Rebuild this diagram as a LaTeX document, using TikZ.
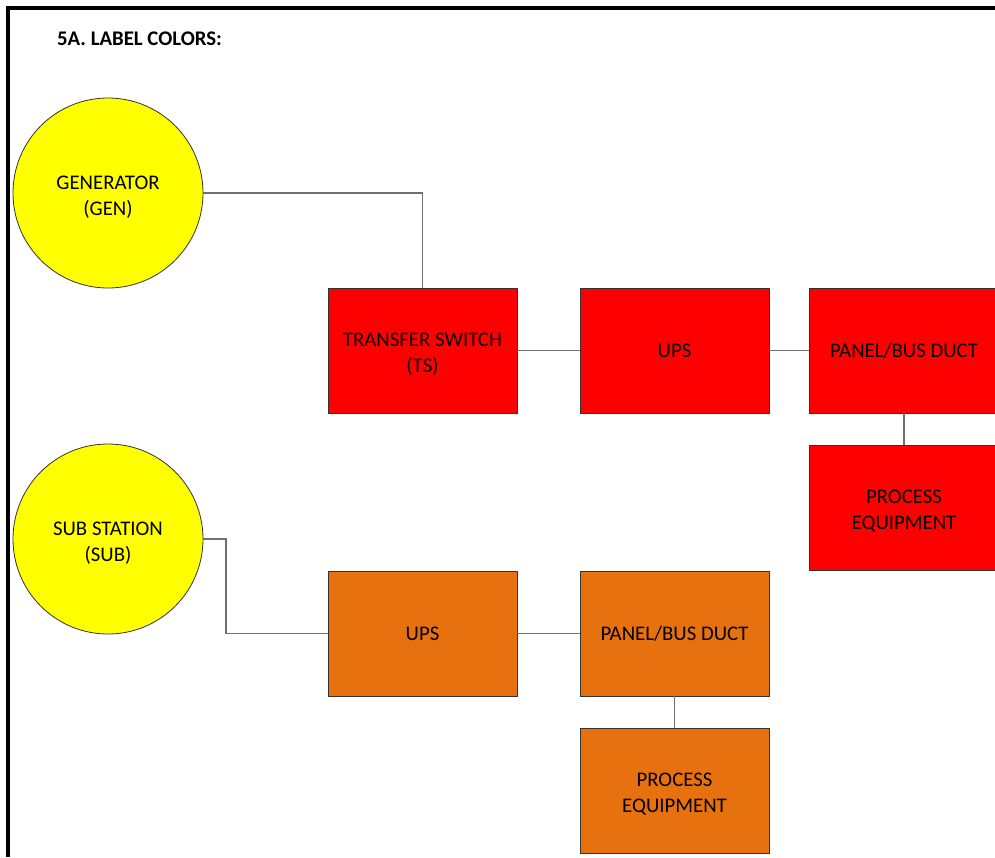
\documentclass[tikz,border=0pt]{standalone}
\usepackage{fontspec}
\setmainfont{Carlito}
\definecolor{boxred}{HTML}{FF0000}
\definecolor{boxorange}{HTML}{E8710F}
\definecolor{genyellow}{HTML}{FFFF00}
\definecolor{wire}{HTML}{707070}
\newcommand\liftline{\rule{0pt}{21pt}}
\begin{document}
\begin{tikzpicture}[x=1pt,y=-1pt,
  lbl/.style={font=\fontsize{20.8}{26}\selectfont, align=center, text=black},
  blk/.style={lbl, draw=black!80, line width=0.8pt, minimum width=189pt, minimum height=125pt, inner sep=0pt},
  redblk/.style={blk, fill=boxred},
  orgblk/.style={blk, fill=boxorange},
  src/.style={lbl, circle, draw=black!80, line width=0.8pt, fill=genyellow, minimum size=190pt, inner sep=0pt},
  wirel/.style={draw=wire, line width=1.3pt}]
\useasboundingbox (0,0) rectangle (995,857);
\clip (0,0) rectangle (995,857);
\fill[white] (0,0) rectangle (995,857);
\draw[line width=4pt] (8,857) -- (8,8) -- (995,8);
\node[anchor=west, inner sep=0pt, font=\bfseries\fontsize{20.8}{24}\selectfont] (title) at (57,39) {5A. LABEL COLORS:};
\node[src] (gen) at (108,193) {\liftline GENERATOR\\(GEN)};
\node[src] (sub) at (108,539) {\liftline SUB STATION\\(SUB)};
\node[redblk] (ts) at (422.5,350.5) {\liftline TRANSFER SWITCH\\(TS)};
\node[redblk] (ups1) at (674.5,350.5) {UPS};
\node[redblk, minimum width=190pt] (pan1) at (904,350.5) {PANEL/BUS DUCT};
\node[redblk, minimum width=190pt] (proc1) at (904,507.5) {\liftline PROCESS\\EQUIPMENT};
\node[orgblk] (ups2) at (422.5,633.5) {UPS};
\node[orgblk] (pan2) at (674.5,633.5) {PANEL/BUS DUCT};
\node[orgblk] (proc2) at (674.5,790.5) {\liftline PROCESS\\EQUIPMENT};
\draw[wirel] (gen.east) -- (ts.north |- gen.east) -- (ts.north);
\draw[wirel] (ts) -- (ups1);
\draw[wirel] (ups1) -- (pan1);
\draw[wirel] (pan1) -- (proc1);
\draw[wirel] (sub.east) -- (226,539) -- (226,633.5) -- (ups2.west);
\draw[wirel] (ups2) -- (pan2);
\draw[wirel] (pan2) -- (proc2);
\end{tikzpicture}
\end{document}
